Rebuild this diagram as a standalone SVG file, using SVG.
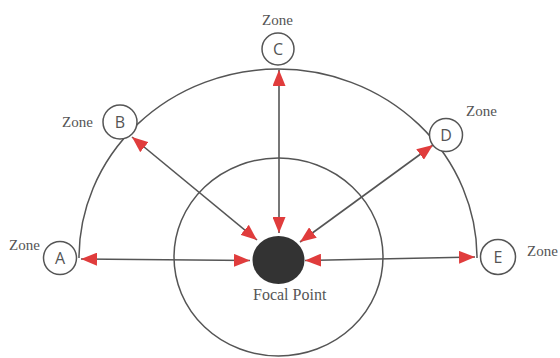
<svg xmlns="http://www.w3.org/2000/svg" width="560" height="358" viewBox="0 0 560 358">
<defs>
<style>
.ring{fill:none;stroke:#555;stroke-width:1.5}
.zone{fill:#fff;stroke:#555;stroke-width:1.5}
.lbl{font-family:'Liberation Serif','DejaVu Serif',serif;font-size:15px;fill:#555}
.fp{font-size:16px}
.let{font-family:'Open Sans','Liberation Sans',sans-serif;font-size:16px;fill:#555;text-anchor:middle}
.conn{stroke:#555;stroke-width:1.6;fill:none;marker-start:url(#ah);marker-end:url(#ah)}
</style>
<marker id="ah" viewBox="0 0 16 13" refX="16" refY="6.5" markerWidth="16" markerHeight="13" markerUnits="userSpaceOnUse" orient="auto-start-reverse">
<path d="M0,0 L16,6.5 L0,13 Z" fill="#e03c3c"/>
</marker>
</defs>
<rect width="560" height="358" fill="#fff"/>
<g id="rings">
<path class="ring" d="M79,258 A199,189 0 0 1 477,258"/>
<ellipse class="ring" cx="278.5" cy="257" rx="104.5" ry="99"/>
</g>
<g id="connectors">
<line class="conn" x1="81" y1="259" x2="250" y2="260.5"/>
<line class="conn" x1="305" y1="260.5" x2="475" y2="257"/>
<line class="conn" x1="279" y1="70" x2="279" y2="233"/>
<line class="conn" x1="132" y1="137" x2="257" y2="240"/>
<line class="conn" x1="433" y1="145" x2="300" y2="242"/>
</g>
<g id="focal">
<ellipse cx="278.5" cy="260" rx="26" ry="24" fill="#333"/>
<text class="lbl fp" x="253" y="300">Focal Point</text>
</g>
<g id="zoneA">
<circle class="zone" cx="60" cy="258" r="16.5"/>
<text class="let" x="60" y="264">A</text>
<text class="lbl" x="9" y="250">Zone</text>
</g>
<g id="zoneB">
<circle class="zone" cx="120" cy="122" r="17"/>
<text class="let" x="120" y="128">B</text>
<text class="lbl" x="62" y="127">Zone</text>
</g>
<g id="zoneC">
<circle class="zone" cx="278" cy="49" r="16"/>
<text class="let" x="278" y="55">C</text>
<text class="lbl" x="262" y="25">Zone</text>
</g>
<g id="zoneD">
<circle class="zone" cx="446" cy="135" r="16.5"/>
<text class="let" x="446" y="141">D</text>
<text class="lbl" x="466" y="116">Zone</text>
</g>
<g id="zoneE">
<circle class="zone" cx="498" cy="257" r="17.5"/>
<text class="let" x="498" y="263">E</text>
<text class="lbl" x="527" y="256">Zone</text>
</g>
</svg>
